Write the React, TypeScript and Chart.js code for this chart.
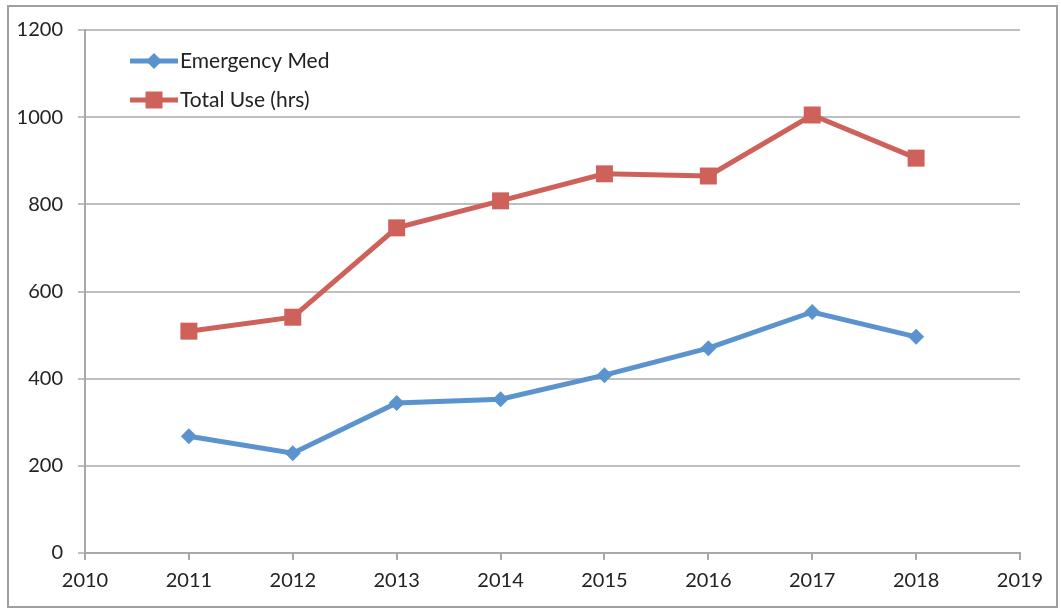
import React, { useEffect, useRef } from "react";
import { Chart, registerables } from "chart.js";

Chart.register(...registerables);

const years = [2011, 2012, 2013, 2014, 2015, 2016, 2017, 2018];
const emergencyMed = [268, 229, 344, 353, 408, 470, 553, 496];
const totalUse = [509, 541, 746, 808, 870, 865, 1005, 906];
const seriesNames = ["Emergency Med", "Total Use (hrs)"];
const xMin = 2010;
const xMax = 2019;
const yMax = 1200;
const yStep = 200;

const BLUE = "#5A93CD";
const RED = "#CE615A";
const FONT = "Lato, 'Open Sans', sans-serif";

const legendPlugin = {
  id: "insideLegend",
  afterDraw(chart: any) {
    const ctx = chart.ctx;
    const items = [
      { name: seriesNames[0], color: BLUE, style: "rectRot", r: 8, y: 54 },
      { name: seriesNames[1], color: RED, style: "rect", r: 12, y: 93 },
    ];
    ctx.save();
    items.forEach((it) => {
      ctx.strokeStyle = it.color;
      ctx.lineWidth = 5;
      ctx.beginPath();
      ctx.moveTo(121, it.y);
      ctx.lineTo(169, it.y);
      ctx.stroke();
      ctx.fillStyle = it.color;
      ctx.beginPath();
      if (it.style === "rect") {
        const s = it.r * Math.SQRT1_2;
        ctx.rect(145 - s, it.y - s, 2 * s, 2 * s);
      } else {
        ctx.moveTo(145, it.y - it.r);
        ctx.lineTo(145 + it.r, it.y);
        ctx.lineTo(145, it.y + it.r);
        ctx.lineTo(145 - it.r, it.y);
        ctx.closePath();
      }
      ctx.fill();
      ctx.fillStyle = "#222";
      ctx.font = `21px ${FONT}`;
      ctx.textBaseline = "middle";
      ctx.textAlign = "left";
      ctx.fillText(it.name, 171, it.y);
    });
    ctx.restore();
  },
};

export default function App() {
  const ref = useRef<HTMLCanvasElement>(null);
  useEffect(() => {
    if (!ref.current) return;
    const chart = new Chart(ref.current, {
      type: "line",
      data: {
        datasets: [
          {
            label: seriesNames[0],
            data: years.map((x, i) => ({ x, y: emergencyMed[i] })),
            borderColor: BLUE,
            backgroundColor: BLUE,
            borderWidth: 5,
            pointStyle: "rectRot",
            pointRadius: 8,
            pointBorderWidth: 0,
            tension: 0,
          },
          {
            label: seriesNames[1],
            data: years.map((x, i) => ({ x, y: totalUse[i] })),
            borderColor: RED,
            backgroundColor: RED,
            borderWidth: 5,
            pointStyle: "rect",
            pointRadius: 12,
            pointBorderWidth: 0,
            tension: 0,
          },
        ],
      },
      options: {
        animation: false,
        responsive: true,
        maintainAspectRatio: false,
        layout: { padding: { top: 23, right: 36, left: 0, bottom: 0 } },
        plugins: { legend: { display: false }, tooltip: { enabled: false } },
        scales: {
          x: {
            type: "linear",
            min: xMin,
            max: xMax,
            ticks: {
              stepSize: 1,
              callback: (v: any) => String(v),
              color: "#222",
              font: { family: FONT, size: 20 },
              padding: 9,
              maxRotation: 0,
            },
            grid: {
              drawOnChartArea: false,
              drawTicks: true,
              tickLength: 7,
              color: "#A8A8A8",
              lineWidth: 2,
            },
            border: { color: "#A8A8A8", width: 2 },
            afterFit: (s: any) => {
              s.height = 53;
              s.paddingLeft = 0;
              s.paddingRight = 0;
            },
          },
          y: {
            min: 0,
            max: yMax,
            ticks: {
              stepSize: yStep,
              callback: (v: any) => String(v),
              color: "#222",
              font: { family: FONT, size: 20 },
              padding: 15,
            },
            grid: {
              drawTicks: true,
              tickLength: 7,
              color: "#BFBFBF",
              lineWidth: 2,
            },
            border: { color: "#A8A8A8", width: 2 },
            afterFit: (s: any) => {
              s.width = 76;
              s.paddingTop = 0;
              s.paddingBottom = 0;
            },
          },
        },
      },
      plugins: [legendPlugin],
    } as any);
    return () => chart.destroy();
  }, []);
  return (
    <div
      style={{
        position: "absolute",
        left: 7,
        top: 5,
        width: 1051,
        height: 603,
        border: "2px solid #A0A0A0",
        boxSizing: "border-box",
        background: "#fff",
      }}
    >
      <canvas ref={ref} />
    </div>
  );
}
